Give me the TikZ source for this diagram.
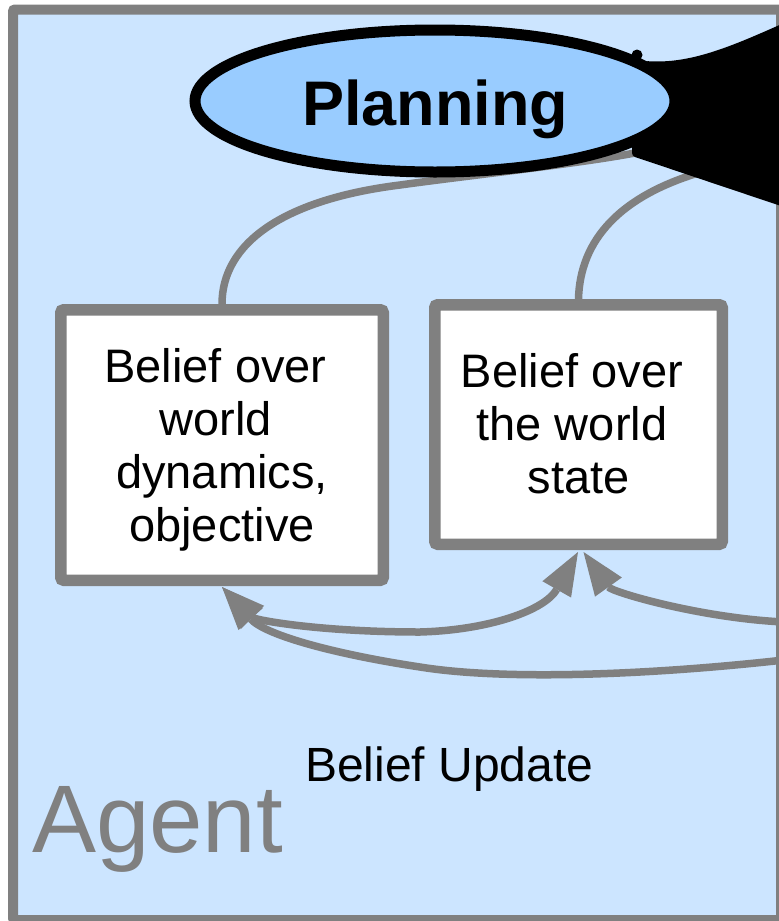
\documentclass[tikz,border=0pt]{standalone}
\usepackage{fontspec}
\setmainfont{Liberation Sans}
\usetikzlibrary{arrows.meta,calc,shapes.geometric}
\definecolor{agentfill}{HTML}{CCE5FF}
\definecolor{planfill}{HTML}{99CCFF}
\definecolor{framegray}{HTML}{808080}
% a centred line that ends in a word space
\newcommand\spline[1]{\mbox{#1\kern0.278em}}
\tikzset{
  bighead/.tip={Triangle[length=43pt,width=33pt,line width=0pt]},
  beliefbox/.style={draw=framegray, fill=white, line width=11.5pt,
    rounded corners=3pt, inner sep=0pt},
  belieftext/.style={align=center, inner sep=0pt,
    font=\fontsize{47pt}{53pt}\selectfont},
  link/.style={draw=framegray, line width=7.5pt},
  planell/.style={ellipse, draw=black, fill=planfill, line width=11pt,
    minimum width=480pt, minimum height=142pt, inner sep=0pt,
    text height=48pt, text depth=0pt,
    font=\fontsize{63pt}{70pt}\selectfont\bfseries},
}
\begin{document}
\begin{tikzpicture}[x=1pt,y=-1pt]
\useasboundingbox (0,0) rectangle (779,921);

% agent frame
\draw[framegray, fill=agentfill, line width=10pt, rounded corners=2pt]
  (13,9.5) rectangle (781,920);

% belief boxes
\node[beliefbox, minimum width=322.5pt, minimum height=270.5pt]
  (dyn) at (222,445) {};
\node[beliefbox, minimum width=287.5pt, minimum height=239.5pt]
  (state) at (578.5,424.5) {};
\node[belieftext] (dyntext) at ($(dyn.center)+(0,4.4)$)
  {\spline{Belief over}\\\spline{world}\\dynamics,\\objective};
\node[belieftext] (statetext) at ($(state.center)+(0,-0.4)$)
  {\spline{Belief over}\\\spline{the world}\\state};

% free ends of the connectors
\coordinate (planin1) at (640,152);
\coordinate (planin2) at (705,171);
\coordinate (obsin1) at (784,622);
\coordinate (obsin2) at (784,660);

% links from the beliefs up to planning
\draw[link] (dyn.north) .. controls (222,245) and (280,200) .. (400,185)
  .. controls (480,174) and (585,163) .. (planin1);
\draw[link] (state.north) .. controls (580,240) and (620,195) .. (planin2);

% belief update arrows
\draw[link, -bighead] (obsin1) .. controls (700,618) and (612,592)
  .. ($(state.south)+(5,2)$);
\draw[link, -bighead] (obsin2) .. controls (640,676) and (500,680) .. (420,667)
  .. controls (340,655) and (266,636) .. ($(dyn.south)+(0,1)$);
\draw[link, bighead-bighead] ($(dyn.south)+(0,1)$)
  .. controls (255,620) and (320,632) .. (420,632)
  .. controls (490,630) and (545,610) .. ($(state.south)+(-0.5,2)$);

% incoming action arrow body entering planning
\fill[black, rounded corners=3pt]
  (784,23) .. controls (730,47) and (690,64) .. (645,61)
  -- (622,80) -- (624,140) -- (632,145) -- (632,156) -- (784,207) -- cycle;
\fill[black] (637,55) circle (5.5pt);

% planning
\node[planell] (plan) at (435,101) {Planning};

% labels
\node[anchor=base west, inner sep=0pt, font=\fontsize{48pt}{54pt}\selectfont]
  (update) at (305,781) {Belief Update};
\node[anchor=base west, inner sep=0pt, text=framegray,
  font=\fontsize{96pt}{100pt}\selectfont] (agent) at (32,852) {Agent};
\end{tikzpicture}
\end{document}
